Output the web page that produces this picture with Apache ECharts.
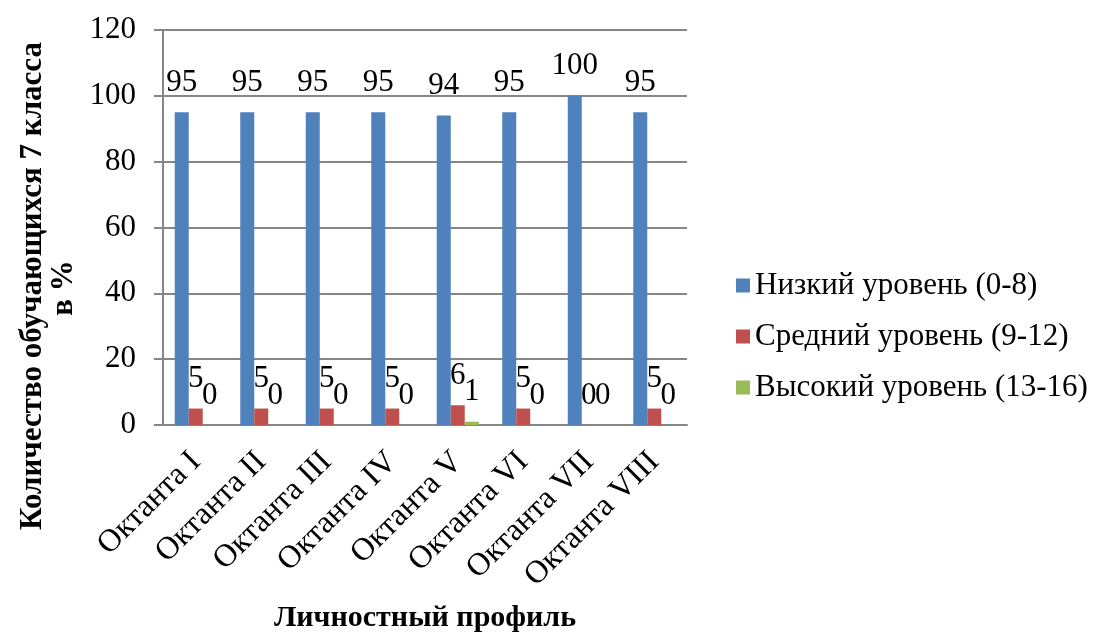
<!DOCTYPE html>
<html>
<head>
<meta charset="utf-8">
<script src="https://cdn.jsdelivr.net/npm/echarts@6/dist/echarts.min.js"></script>
<style>html,body{margin:0;padding:0;background:#fff;}#c{width:1101px;height:636px;}</style>
</head>
<body>
<div id="c"></div>
<script>
var categories = ['Октанта I','Октанта II','Октанта III','Октанта IV','Октанта V','Октанта VI','Октанта VII','Октанта VIII'];
var lowValues = [95,95,95,95,94,95,100,95];
var midValues = [5,5,5,5,6,5,0,5];
var highValues = [0,0,0,0,1,0,0,0];
var seriesNames = ['Низкий уровень (0-8)','Средний уровень (9-12)','Высокий уровень (13-16)'];
var yTitle1 = 'Количество обучающихся 7 класса';
var yTitle2 = 'в %';
var xTitle = 'Личностный профиль';

var FONT = '"Liberation Serif","Times New Roman",serif';
var chart = echarts.init(document.getElementById('c'), null, {renderer:'canvas', width:1101, height:636});
var lbl = {show:true, position:'top', distance:14, color:'#000', fontFamily:FONT, fontSize:31};
function mk(name, data, color){
  return {name:name, type:'bar', data:data, barWidth:14, barGap:'0%',
    itemStyle:{color:color}, label:lbl, animation:false};
}
chart.setOption({
  animation:false,
  textStyle:{fontFamily:FONT},
  grid:{left:163, width:524, top:30, height:395, containLabel:false, outerBoundsMode:'none'},
  legend:{orient:'vertical', left:731, top:265, itemWidth:14, itemHeight:14, itemGap:20,
    icon:'rect', textStyle:{fontFamily:FONT, fontSize:31, color:'#000'},
    data:seriesNames},
  xAxis:{type:'category', data:categories,
    axisLine:{lineStyle:{color:'#868686', width:2}},
    axisTick:{show:false},
    axisLabel:{rotate:45, interval:0, color:'#000', fontFamily:FONT, fontSize:32, margin:32},
    name:xTitle, nameLocation:'middle', nameGap:178,
    nameTextStyle:{fontFamily:FONT, fontSize:30, fontWeight:'bold', color:'#000'}},
  yAxis:{type:'value', min:0, max:120, interval:20,
    axisLine:{show:true, lineStyle:{color:'#868686', width:2}},
    axisTick:{show:true, length:9, lineStyle:{color:'#868686', width:2}},
    splitLine:{lineStyle:{color:'#868686', width:2}},
    axisLabel:{color:'#000', fontFamily:FONT, fontSize:31, margin:27}},
  graphic:[
    {type:'text', x:33, y:286, rotation:Math.PI/2,
      style:{text:yTitle1, fontFamily:FONT, fontSize:31, fontWeight:'bold', fill:'#000', align:'center', verticalAlign:'middle'}},
    {type:'text', x:64, y:288, rotation:Math.PI/2,
      style:{text:yTitle2, fontFamily:FONT, fontSize:31, fontWeight:'bold', fill:'#000', align:'center', verticalAlign:'middle'}}
  ],
  series:[
    mk(seriesNames[0], lowValues, '#4F81BD'),
    mk(seriesNames[1], midValues, '#C0504D'),
    mk(seriesNames[2], highValues, '#9BBB59')
  ]
});
</script>
</body>
</html>
